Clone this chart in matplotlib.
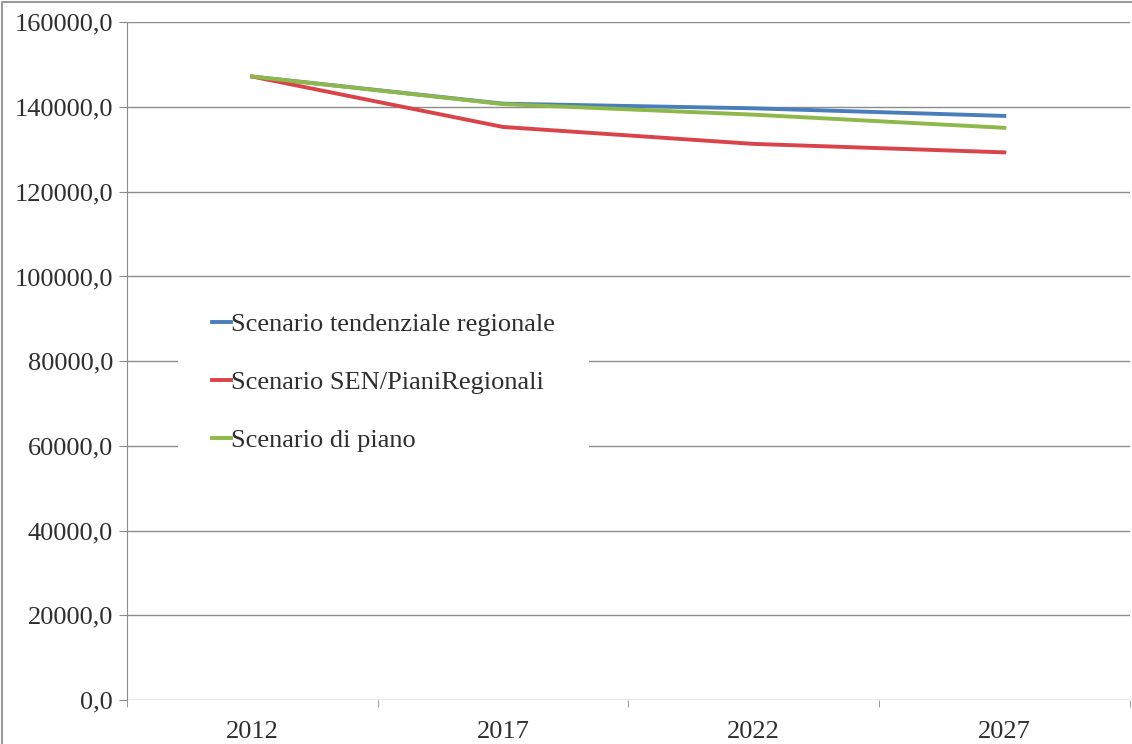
import matplotlib.pyplot as plt
from matplotlib.ticker import FuncFormatter
from matplotlib.lines import Line2D

years = ["2012", "2017", "2022", "2027"]
tendenziale = [147200, 140800, 139700, 137900]
sen_piani = [147200, 135300, 131300, 129300]
piano = [147200, 140700, 138200, 135100]

plt.rcParams["font.family"] = ["Liberation Serif", "DejaVu Serif"]

fig = plt.figure(figsize=(11.32, 7.44), dpi=100)
ax = fig.add_axes([0.112, 0.059, 0.886, 0.911])

x = list(range(len(years)))
ax.plot(x, tendenziale, color="#4a7ebb", lw=2.8, label="Scenario tendenziale regionale")
ax.plot(x, sen_piani, color="#d9444a", lw=2.8, label="Scenario SEN/PianiRegionali")
ax.plot(x, piano, color="#8fb84a", lw=2.8, label="Scenario di piano")

ax.set_xlim(-0.5, 3.5)
ax.set_ylim(0, 160000)
ax.set_yticks(range(0, 160001, 20000))
ax.yaxis.set_major_formatter(FuncFormatter(lambda v, p: f"{v:.1f}".replace(".", ",")))
ax.set_xticks(x)
ax.set_xticklabels(years)
ax.set_xticks([-0.5, 0.5, 1.5, 2.5, 3.5], minor=True)

ax.grid(axis="y", color="#8c8c8c", lw=1.0)
ax.set_axisbelow(True)
for s in ["top", "right", "bottom"]:
    ax.spines[s].set_visible(False)
ax.spines["left"].set_color("#8c8c8c")
ax.tick_params(axis="y", length=6, color="#8c8c8c", labelsize=19, labelcolor="#2e2e2e", pad=4)
ax.tick_params(axis="x", which="major", length=0, labelsize=19, labelcolor="#2e2e2e", pad=15)
ax.tick_params(axis="x", which="minor", length=5, color="#8c8c8c")

leg = ax.legend(loc="upper left", bbox_to_anchor=(0.051, 0.622), borderaxespad=0,
                frameon=True, fontsize=19, handlelength=0.7, handletextpad=0.0,
                labelspacing=1.3, borderpad=1.3, framealpha=1.0)
leg.get_frame().set_edgecolor("none")
leg.get_frame().set_facecolor("white")
leg.get_frame().set_boxstyle("square", pad=0)
for t in leg.get_texts():
    t.set_color("#2e2e2e")

# chart area border (left and top edges visible in the original)
fig.add_artist(Line2D([0.002, 0.002, 0.999], [0.0, 0.997, 0.997], transform=fig.transFigure,
                      color="#9a9a9a", lw=1.5))

fig.savefig("out.png", dpi=100)
